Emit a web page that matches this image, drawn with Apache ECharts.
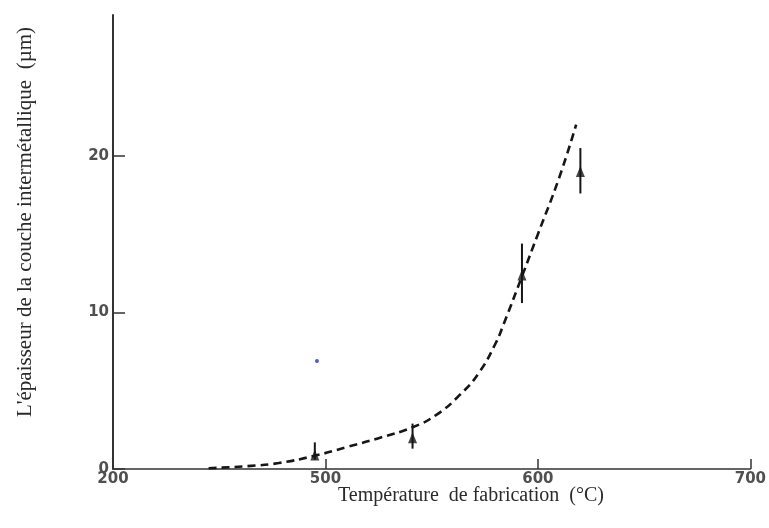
<!DOCTYPE html>
<html>
<head>
<meta charset="utf-8">
<script src="https://cdn.jsdelivr.net/npm/echarts@6/dist/echarts.min.js"></script>
<style>html,body{margin:0;padding:0;background:#fff}#c{width:769px;height:528px}</style>
</head>
<body>
<div id="c"></div>
<script>
// Tick values and labels
const xTickValues = [400, 500, 600, 700];
const xTickLabels = ['200', '500', '600', '700'];
const yTickValues = [0, 10, 20];
const yTickLabels = ['0', '10', '20'];

// Measured points (temperature °C, thickness µm)
const pointX = [495, 541, 592.5, 620];
const pointY = [0.9, 2.0, 12.4, 19.0];
const errLow = [0.6, 1.3, 10.6, 17.6];
const errHigh = [1.7, 2.9, 14.4, 20.5];

// Fitted dashed curve
const curveX = [445, 465, 478, 495, 510, 525, 541, 552, 563, 572, 580, 584, 592.5, 600, 610, 618];
const curveY = [0.05, 0.2, 0.38, 0.85, 1.4, 1.97, 2.67, 3.44, 4.7, 6.1, 8.0, 9.3, 12.3, 15.0, 18.6, 22.0];

// Stray blue dot
const dotX = [496];
const dotY = [6.9];

const chart = echarts.init(document.getElementById('c'));
const ink = '#161616';
chart.setOption({
  animation: false,
  backgroundColor: '#fff',
  grid: { left: 113, right: 17, top: 15, bottom: 59 },
  xAxis: {
    type: 'value', min: 400, max: 700,
    splitLine: { show: false },
    axisLine: { onZero: false, lineStyle: { color: '#333', width: 1.5 } },
    axisTick: { inside: true, length: 10, customValues: xTickValues, lineStyle: { color: '#333', width: 1.5 } },
    axisLabel: {
      customValues: xTickValues, margin: 3,
      formatter: v => xTickLabels[xTickValues.indexOf(v)] || '',
      color: '#505050', fontFamily: 'DejaVu Sans', fontWeight: 'bold', fontSize: 15
    }
  },
  yAxis: {
    type: 'value', min: 0, max: 29,
    splitLine: { show: false },
    axisLine: { onZero: false, lineStyle: { color: '#333', width: 2 } },
    axisTick: { inside: true, length: 12, customValues: yTickValues, lineStyle: { color: '#333', width: 1.5 } },
    axisLabel: {
      customValues: yTickValues, margin: 4,
      formatter: v => yTickLabels[yTickValues.indexOf(v)] || '',
      color: '#505050', fontFamily: 'DejaVu Sans', fontWeight: 'bold', fontSize: 15
    }
  },
  graphic: [
    { type: 'text', x: 25, y: 222, rotation: Math.PI / 2,
      style: { text: "L'épaisseur de la couche intermétallique  (µm)", font: '21px "Liberation Serif"', fill: '#2a2a2a', textAlign: 'center', textVerticalAlign: 'middle' } },
    { type: 'text', x: 471, y: 496,
      style: { text: 'Température  de fabrication  (°C)', font: '20px "Liberation Serif"', fill: '#2a2a2a', textAlign: 'center', textVerticalAlign: 'middle' } }
  ],
  series: [
    {
      type: 'line', smooth: 0.5, symbol: 'none',
      data: curveX.map((x, i) => [x, curveY[i]]),
      lineStyle: { color: ink, width: 2.6, type: [8, 5] }
    },
    {
      type: 'custom',
      data: pointX.map((x, i) => [x, errLow[i], errHigh[i]]),
      renderItem: (params, api) => {
        const a = api.coord([api.value(0), api.value(1)]);
        const b = api.coord([api.value(0), api.value(2)]);
        return { type: 'line', shape: { x1: a[0], y1: a[1], x2: b[0], y2: b[1] }, style: { stroke: ink, lineWidth: 2 } };
      }
    },
    {
      type: 'scatter', symbol: 'triangle', symbolSize: [9, 11],
      data: pointX.map((x, i) => [x, pointY[i]]),
      itemStyle: { color: ink }
    },
    {
      type: 'scatter', symbol: 'circle', symbolSize: 4,
      data: dotX.map((x, i) => [x, dotY[i]]),
      itemStyle: { color: '#2a2ad8' }
    }
  ]
});
</script>
</body>
</html>
